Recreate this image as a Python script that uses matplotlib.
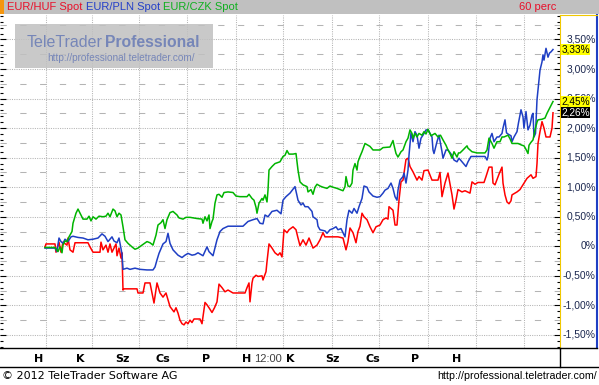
import matplotlib
matplotlib.use("Agg")
import matplotlib.pyplot as plt
import matplotlib.transforms as mtransforms
from matplotlib.lines import Line2D
from matplotlib.patches import Rectangle
from matplotlib.ticker import MultipleLocator

# x = 60-minute bar index, y = change in percent
huf_x = [0, 1, 10, 11, 14, 16, 18, 22, 23, 25, 28, 30, 43, 45, 48, 55, 56, 58, 61, 63,
         65, 67, 71, 72, 74, 76, 77, 78, 79, 92, 93, 98, 100, 105, 109, 112, 115, 118, 121, 125,
         129, 131, 133, 135, 137, 139, 141, 143, 145, 147, 149, 155, 157, 160, 162, 164, 167, 169.5, 172, 174,
         177, 180, 183, 188, 200, 202, 204, 205, 207, 208, 211, 213, 217, 218, 221, 222, 224, 227, 230, 233,
         235, 237, 239, 242, 244, 248, 251, 253, 255, 258, 261, 264, 268, 272, 275, 278, 280, 293, 298, 301,
         303, 305, 308, 311, 313, 315, 317, 319, 322, 325, 328, 331, 335, 338, 341, 343, 344, 346, 348, 350,
         352, 354, 356, 358, 361, 363, 365, 368, 372, 374, 377, 379, 383, 387, 393, 395, 397, 400, 403, 405,
         407, 409, 411, 413, 417, 420, 425, 427, 430, 433, 439, 441, 444, 447, 448, 450, 454, 457, 458, 460,
         462, 464, 466, 467, 472, 475, 478, 482, 486, 488, 491, 492, 493, 495, 497, 499, 501, 505, 507, 508]
huf_y = [-0.01, 0.04, 0.04, -0.10, 0.07, -0.10, 0.07, 0.02, 0.14, -0.06, -0.10, 0.06, 0.06, -0.01, -0.10, -0.10, 0.07, -0.06, 0.02, -0.10,
         0.04, -0.10, 0.04, -0.16, -0.03, -0.20, -0.11, -0.74, -0.72, -0.72, -0.79, -0.79, -0.62, -0.62, -0.96, -0.62, -0.79, -0.86, -0.79, -1.02,
         -1.11, -1.04, -1.13, -1.25, -1.31, -1.33, -1.28, -1.31, -1.25, -1.29, -1.23, -1.23, -1.31, -0.95, -0.99, -1.04, -1.12, -1.04, -0.94, -0.64,
         -0.70, -0.77, -0.74, -0.79, -0.79, -0.70, -0.62, -0.94, -0.62, -0.54, -0.49, -0.51, -0.50, -0.57, -0.43, -0.26, 0.04, -0.03, -0.11, -0.15,
         -0.11, -0.18, 0.28, 0.23, 0.28, 0.33, 0.28, 0.14, 0.01, 0.11, 0.02, 0.14, -0.03, 0.02, 0.11, 0.23, 0.16, 0.16, 0.14, -0.06,
         0.08, 0.31, 0.23, 0.06, 0.25, 0.34, 0.56, 0.50, 0.45, 0.33, 0.23, 0.33, 0.36, 0.45, 0.48, 0.46, 0.67, 0.64, 0.61, 0.36,
         0.36, 0.78, 1.09, 1.12, 1.47, 1.49, 1.35, 1.26, 1.12, 1.18, 1.12, 1.28, 1.29, 1.12, 1.12, 1.25, 0.84, 1.07, 1.24, 1.05,
         0.87, 0.63, 0.78, 0.96, 0.92, 0.94, 0.90, 1.09, 1.05, 1.08, 1.08, 1.18, 1.34, 1.34, 1.07, 1.04, 1.22, 1.34, 1.07, 0.87,
         0.75, 0.72, 0.77, 0.87, 0.92, 0.96, 1.04, 1.15, 1.21, 1.15, 1.18, 1.40, 1.74, 1.94, 2.11, 2.00, 1.85, 1.85, 2.00, 2.26]

pln_x = [0, 10, 12, 14, 16, 18, 20, 23, 26, 28, 33, 38, 43, 48, 53, 57, 60, 63, 67, 69,
         72, 74, 77, 78, 82, 85, 90, 95, 102, 108, 110, 112, 114, 118, 121, 123, 125, 128, 133, 137,
         140, 143, 147, 150, 153, 158, 162, 164, 168, 172, 175, 178, 183, 198, 203, 208, 212, 215, 218, 220,
         223, 227, 232, 236, 238, 241, 245, 250, 253, 256, 258, 260, 263, 267, 268, 272, 273, 275, 280, 282,
         285, 288, 291, 293, 296, 298, 300, 302, 304, 307, 309, 312, 314, 317, 319, 322, 324, 328, 332, 335,
         338, 340, 343, 346, 348, 350, 352, 353, 355, 358, 359, 361, 363, 364, 366, 368, 370, 372, 374, 376,
         378, 381, 383, 387, 388, 389, 392, 394, 397, 398, 401, 403, 407, 409, 412, 414, 417, 419, 421, 423,
         426, 440, 442, 443, 445, 447, 449, 452, 454, 457, 458, 460, 461.5, 463, 466, 467, 469, 472, 473.5, 476,
         478, 479, 481, 483, 485, 487, 488, 489, 490.5, 492, 493.5, 495, 497, 498, 499, 501, 503, 504.5, 506, 508]
pln_y = [-0.03, -0.03, -0.09, 0.14, 0.08, 0.05, 0.12, 0.08, 0.16, 0.17, 0.15, 0.14, 0.11, 0.12, 0.14, 0.21, 0.17, 0.08, 0.16, 0.09,
         0.06, 0.14, -0.13, -0.39, -0.37, -0.39, -0.37, -0.39, -0.40, -0.40, -0.35, -0.23, -0.12, 0.04, 0.08, 0.22, 0.05, -0.06, -0.15, -0.19,
         -0.15, -0.12, -0.15, -0.14, -0.11, -0.16, -0.01, -0.09, -0.16, 0.11, 0.25, 0.30, 0.34, 0.34, 0.42, 0.45, 0.47, 0.39, 0.38, 0.53,
         0.50, 0.59, 0.61, 0.55, 0.78, 0.84, 0.90, 1.01, 0.78, 0.70, 0.73, 0.67, 0.67, 0.59, 0.50, 0.45, 0.34, 0.28, 0.26, 0.22,
         0.28, 0.30, 0.33, 0.28, 0.30, 0.23, 0.16, 0.45, 0.61, 0.56, 0.64, 0.56, 0.67, 0.81, 1.02, 1.00, 0.92, 0.85, 0.83, 0.84,
         0.90, 0.95, 0.98, 1.07, 0.98, 0.84, 0.78, 0.95, 1.12, 1.18, 1.24, 1.07, 1.29, 1.54, 1.92, 1.77, 1.94, 1.88, 1.66, 1.83,
         1.88, 1.97, 1.97, 1.85, 1.63, 1.57, 1.77, 1.88, 1.60, 1.49, 1.63, 1.63, 1.54, 1.46, 1.43, 1.49, 1.43, 1.39, 1.35, 1.43,
         1.52, 1.52, 1.46, 1.52, 1.83, 1.91, 1.77, 1.85, 1.85, 1.91, 2.00, 2.14, 1.92, 1.90, 1.87, 1.77, 1.85, 1.94, 2.09, 2.31,
         2.19, 2.00, 2.28, 1.97, 2.05, 2.22, 2.25, 1.85, 1.91, 2.48, 2.73, 2.98, 3.12, 3.24, 3.15, 3.35, 3.20, 3.27, 3.29, 3.33]

czk_x = [0, 10, 13, 15, 17, 18, 20, 22, 24, 27, 28, 31, 33, 36, 38, 42, 44, 46, 48, 51,
         54, 58, 61, 63, 65, 68, 70, 72, 74, 76, 78, 80, 83, 87, 90, 93, 97, 102, 105, 108,
         111, 113, 116, 118, 120, 122, 125, 128, 132, 134, 138, 141, 145, 152, 157, 158, 160, 162, 164, 165,
         167, 168, 170, 172, 174, 177, 179, 183, 188, 191, 195, 202, 204, 207, 209, 211, 212, 214, 217, 218,
         220, 222, 223, 224, 227, 230, 235, 238, 240, 242, 244, 248, 251, 253, 255, 258, 262, 263, 266, 268,
         270, 272, 275, 278, 282, 285, 288, 292, 295, 298, 300, 301, 303, 305, 307, 308, 310, 312, 313, 315,
         317, 320, 325, 328, 335, 338, 345, 348, 349, 351, 353, 356, 358, 361, 363, 365, 367, 368, 370, 372,
         374, 377, 379, 381, 383, 386, 390, 393, 395.5, 398, 401, 403, 405, 407, 409, 412, 413.5, 415, 418, 422,
         423, 427, 432, 440, 442, 444, 447, 449, 452, 455, 457, 459, 463, 465, 467, 470, 473, 477, 479, 481,
         483, 484, 486, 488, 490, 492, 493, 497, 500, 502, 505, 508]
czk_y = [-0.02, -0.02, -0.09, -0.01, -0.11, 0.02, 0.09, 0.08, 0.16, 0.25, 0.39, 0.56, 0.63, 0.53, 0.46, 0.46, 0.51, 0.43, 0.50, 0.46,
         0.51, 0.50, 0.51, 0.56, 0.50, 0.63, 0.60, 0.50, 0.56, 0.53, 0.33, 0.11, 0.05, -0.01, -0.05, -0.03, 0.02, 0.08, 0.06, 0.02,
         0.19, 0.36, 0.40, 0.45, 0.30, 0.45, 0.57, 0.59, 0.53, 0.48, 0.46, 0.49, 0.49, 0.47, 0.46, 0.39, 0.50, 0.43, 0.53, 0.30,
         0.42, 0.46, 0.73, 0.87, 0.88, 0.83, 0.91, 0.92, 0.91, 0.85, 0.84, 0.84, 0.88, 0.81, 0.78, 0.66, 0.56, 0.73, 0.81, 0.78,
         0.87, 0.75, 0.95, 1.29, 1.35, 1.40, 1.43, 1.52, 1.54, 1.62, 1.56, 1.56, 1.57, 1.29, 1.09, 1.04, 1.01, 0.92, 0.96, 0.88,
         1.00, 1.05, 1.02, 1.00, 0.98, 1.02, 1.00, 0.98, 0.96, 0.94, 1.01, 1.18, 1.02, 1.01, 1.07, 1.29, 1.40, 1.29, 1.43, 1.52,
         1.60, 1.74, 1.69, 1.63, 1.63, 1.67, 1.68, 1.79, 1.71, 1.57, 1.51, 1.60, 1.63, 1.77, 1.83, 1.97, 1.91, 1.83, 1.91, 1.85,
         1.91, 1.88, 1.94, 1.90, 1.98, 1.87, 1.91, 1.85, 1.88, 1.80, 1.71, 1.63, 1.57, 1.49, 1.60, 1.51, 1.58, 1.58, 1.63, 1.70,
         1.66, 1.60, 1.58, 1.58, 1.63, 1.83, 1.74, 1.66, 1.77, 1.77, 1.85, 1.85, 1.88, 1.82, 1.74, 1.74, 1.74, 1.71, 1.70, 1.64,
         1.57, 1.71, 1.76, 1.80, 1.97, 2.10, 2.14, 2.15, 2.17, 2.25, 2.35, 2.45]

series_names = ["EUR/HUF Spot", "EUR/PLN Spot", "EUR/CZK Spot"]
series_colors = ["#ff0000", "#1f3fc4", "#00b400"]
legend_colors = ["#e8102a", "#2440c8", "#10b020"]

day_ticks = [-6, 35, 77, 118, 161, 202, 223, 245, 287, 328, 370, 412]
day_labels = ["H", "K", "Sz", "Cs", "P", "H", "12:00", "K", "Sz", "Cs", "P", "H"]
grid_bars = [0.7, 46.7, 94.3, 142.3, 190.7, 238.3, 286.7, 334.3, 382.7, 430.7, 479]
pct_levels = [-1.5, -1.0, -0.5, 0.0, 0.5, 1.0, 1.5, 2.0, 2.5, 3.0, 3.5]
half_levels = [-1.25, -0.75, -0.25, 0.25, 0.75, 1.25, 1.75, 2.25, 2.75, 3.25, 3.75]


def pct_label(v):
    if v == 0:
        return "0%"
    return f"{v:.2f}".replace(".", ",") + "%"


W, H = 599, 385
fig = plt.figure(figsize=(W / 100, H / 100), dpi=100)
fig.patch.set_facecolor("white")


def box(l, t, r, b):
    return [l / W, 1 - b / H, (r - l) / W, (b - t) / H]


LS = "Liberation Sans"
grid_col = "#b4b4b4"

ax = fig.add_axes(box(0, 15, 560, 348))
ax.set_xlim(-45, 515)
ax.set_ylim(-1.721, 3.914)
for s in ["top", "left", "right"]:
    ax.spines[s].set_visible(False)
ax.spines["bottom"].set_linewidth(1.0)

ax.yaxis.set_major_locator(MultipleLocator(0.5))
ax.yaxis.set_minor_locator(MultipleLocator(0.1))
ax.tick_params(axis="y", which="both", direction="in", left=True, right=True,
               labelleft=False, width=0.8)
ax.tick_params(axis="y", which="major", length=4)
ax.tick_params(axis="y", which="minor", length=2.5)
ax.grid(axis="y", which="major", color=grid_col, lw=0.75, ls=(0, (1, 1.2)))
for v in half_levels:
    ax.axhline(v, color=grid_col, lw=0.75, ls=(0, (6, 13)), zorder=0.5)
for g in grid_bars:
    ax.axvline(g, color=grid_col, lw=0.75, ls=(0, (1, 1.2)), zorder=0.5)

ax.set_xticks(day_ticks, day_labels)
ax.tick_params(axis="x", length=0, pad=4)
for lab in ax.get_xticklabels():
    if lab.get_text() == "12:00":
        lab.set(fontsize=8, color="#404040", family=LS)
    else:
        lab.set(fontsize=8, fontweight="bold", family="DejaVu Sans")

for xs, ys, c in zip([huf_x, pln_x, czk_x], [huf_y, pln_y, czk_y], series_colors):
    ax.plot(xs, ys, color=c, lw=1.1, zorder=3)

# right price scale panel
axr = fig.add_axes(box(560, 15, 597, 348))
axr.set_xlim(0, 1)
axr.set_ylim(ax.get_ylim())
axr.set_xticks([])
axr.set_yticks([])
axr.spines["left"].set_color("#f0c800")
axr.spines["top"].set_color("#f0c800")
axr.spines["right"].set_color("#1f3fc4")
axr.spines["right"].set_linewidth(1.5)
axr.spines["bottom"].set_linewidth(1.0)
trans = mtransforms.blended_transform_factory(axr.transAxes, axr.transData)
for v in pct_levels:
    axr.text(0.965, v, pct_label(v), transform=trans, ha="right", va="center",
             fontsize=7.5, family=LS, color="#1c2850")

last_vals = [huf_y[-1], pln_y[-1], czk_y[-1]]
tag_styles = [("#000000", "white"), ("#ffff00", "black"), ("#ffff00", "black")]
for v, (bg, fg) in zip(last_vals, tag_styles):
    axr.text(0.04, v, pct_label(v), transform=trans, ha="left", va="center",
             fontsize=7.2, family=LS, color=fg, zorder=5,
             bbox=dict(facecolor=bg, edgecolor="none", pad=0.2))

# header bar
fig.add_artist(Rectangle((0, 1 - 14 / H), 1, 14 / H, transform=fig.transFigure,
                         facecolor="#c0c0c0", edgecolor="none"))
fig.add_artist(Rectangle((0, 1 - 14 / H), 4 / W, 14 / H, transform=fig.transFigure,
                         facecolor="#f5960f", edgecolor="none"))
for name, c, px in zip(series_names, legend_colors, [7, 86, 163]):
    fig.text(px / W, 1 - 7.5 / H, name, color=c, fontsize=8, family=LS, va="center")
fig.text(556 / W, 1 - 7.5 / H, "60 perc", color="#e8102a", fontsize=8, family=LS,
         va="center", ha="right")

# watermark
fig.add_artist(Rectangle((15 / W, 1 - 68 / H), 198 / W, 44 / H, transform=fig.transFigure,
                         facecolor="#c0c0c0", edgecolor="none", alpha=0.85))
fig.text(27 / W, 1 - 47 / H, "TeleTrader", color="#7686b8", fontsize=11.5, family=LS)
fig.text(105 / W, 1 - 47 / H, "Professional", color="#7686b8", fontsize=11.3,
         family=LS, fontweight="bold")
fig.text(47 / W, 1 - 61 / H, "http://professional.teletrader.com/", color="#7686b8",
         fontsize=7.2, family=LS)

# time axis band
fig.add_artist(Line2D([0, 1], [1 - 367 / H] * 2, transform=fig.transFigure,
                      color="black", lw=1.0))
fig.add_artist(Line2D([560 / W] * 2, [1 - 348 / H, 1 - 367 / H], transform=fig.transFigure,
                      color="black", lw=1.0))

# footer
fig.text(2 / W, 1 - 376 / H, "\u00a9 2012 TeleTrader Software AG", fontsize=8,
         family="DejaVu Sans", va="center")
fig.text(597 / W, 1 - 376 / H, "http://professional.teletrader.com/", fontsize=7.7,
         family=LS, va="center", ha="right")

fig.savefig("out.png", dpi=100)
